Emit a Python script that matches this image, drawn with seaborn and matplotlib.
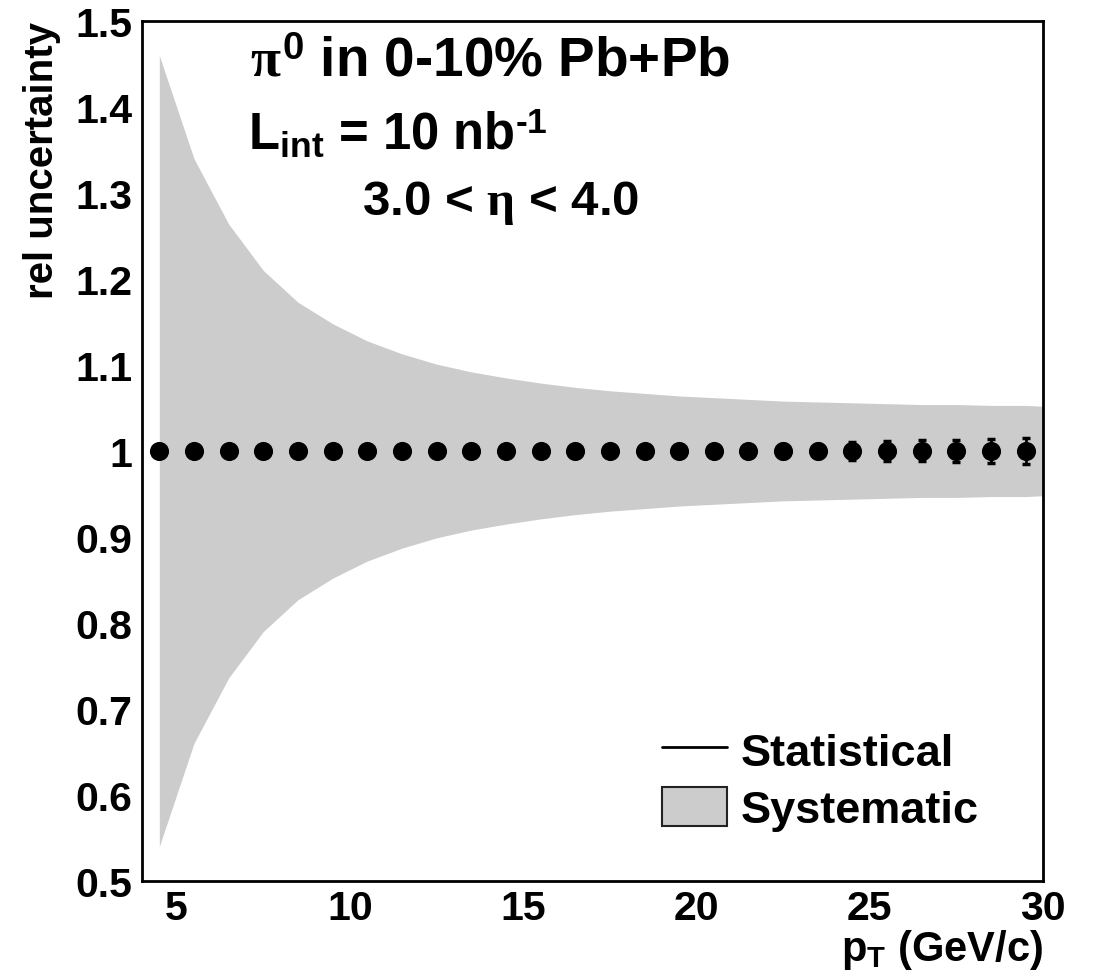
import numpy as np
import pandas as pd
import matplotlib
matplotlib.use("Agg")
import matplotlib.pyplot as plt
import seaborn as sns
from matplotlib.lines import Line2D
from matplotlib.patches import Patch
from matplotlib.ticker import MultipleLocator

# ---------------- data ----------------
pt = [4.5, 5.5, 6.5, 7.5, 8.5, 9.5, 10.5, 11.5, 12.5, 13.5, 14.5, 15.5, 16.5,
      17.5, 18.5, 19.5, 20.5, 21.5, 22.5, 23.5, 24.5, 25.5, 26.5, 27.5, 28.5, 29.5]
rel_value = [1.0] * len(pt)
stat_err = [0.0008, 0.0009, 0.0011, 0.0013, 0.0015, 0.0018, 0.0021, 0.0024, 0.0027,
            0.0031, 0.0035, 0.0040, 0.0045, 0.0050, 0.0056, 0.0062, 0.0067, 0.0072,
            0.0078, 0.0085, 0.0102, 0.0112, 0.0122, 0.0132, 0.0142, 0.0155]
band_x = pt + [30.0]
sys_err = [0.460, 0.340, 0.264, 0.210, 0.173, 0.148, 0.128, 0.113, 0.101, 0.092,
           0.085, 0.079, 0.074, 0.070, 0.067, 0.064, 0.062, 0.060, 0.058, 0.057,
           0.056, 0.055, 0.054, 0.054, 0.053, 0.053, 0.052]

x_label = r"$\mathbf{p_{T}}$ (GeV/c)"
y_label = "rel uncertainty"
legend_labels = ["Statistical", "Systematic"]

df = pd.DataFrame({"pt": pt, "val": rel_value, "stat": stat_err})
band = pd.DataFrame({"x": band_x, "sys": sys_err})

# ---------------- style ----------------
sns.set_theme(style="white")
plt.rcParams["font.family"] = ["Liberation Sans", "DejaVu Sans"]
plt.rcParams["font.weight"] = "bold"
plt.rcParams["text.color"] = "black"
plt.rcParams["axes.labelcolor"] = "black"
plt.rcParams["xtick.color"] = "black"
plt.rcParams["ytick.color"] = "black"
plt.rcParams["axes.unicode_minus"] = False
plt.rcParams["mathtext.fontset"] = "custom"
plt.rcParams["mathtext.rm"] = "Liberation Sans:bold"
plt.rcParams["mathtext.bf"] = "Liberation Sans:bold"
plt.rcParams["mathtext.it"] = "Liberation Serif"
plt.rcParams["mathtext.sf"] = "Liberation Sans:bold"

fig = plt.figure(figsize=(10.93, 9.78), dpi=100)
ax = fig.add_axes([0.1299, 0.0982, 0.9543 - 0.1299, 0.9775 - 0.0982])

grey = "#cccccc"
ax.fill_between(band["x"], 1 - band["sys"], 1 + band["sys"], color=grey,
                linewidth=0, zorder=1)
ax.errorbar(df["pt"], df["val"], yerr=df["stat"], fmt="none", ecolor="black",
            elinewidth=2, capsize=2.6, capthick=2.5, zorder=3)
sns.scatterplot(data=df, x="pt", y="val", ax=ax, color="black", s=190,
                edgecolor="black", linewidth=0, zorder=4, legend=False)

ax.set_xlim(4, 30)
ax.set_ylim(0.5, 1.5)
ax.xaxis.set_major_locator(MultipleLocator(5))
ax.xaxis.set_minor_locator(MultipleLocator(1))
ax.yaxis.set_minor_locator(MultipleLocator(0.02))
ax.set_yticks([0.5, 0.6, 0.7, 0.8, 0.9, 1.0, 1.1, 1.2, 1.3, 1.4, 1.5])
ax.set_yticklabels(["0.5", "0.6", "0.7", "0.8", "0.9", "1", "1.1", "1.2", "1.3", "1.4", "1.5"])
ax.tick_params(axis="both", which="both", direction="in", top=False, right=False,
               colors="black", width=1.5, labelsize=29.5)
ax.tick_params(axis="y", which="major", length=13, pad=7)
ax.tick_params(axis="y", which="minor", length=9)
ax.tick_params(axis="x", which="major", length=19, pad=6)
ax.tick_params(axis="x", which="minor", length=9)
for lab in ax.get_xticklabels() + ax.get_yticklabels():
    lab.set_fontweight("bold")
for s in ax.spines.values():
    s.set_color("black")
    s.set_linewidth(2)
    s.set_visible(True)

ax.set_xlabel(x_label, fontsize=30, fontweight="bold", loc="right", labelpad=0)
ax.set_ylabel(y_label, fontsize=29, fontweight="bold", loc="top", labelpad=10)

# annotations
ax.text(0.12, 0.937, r"$\pi^{\mathrm{0}}$ in 0-10% Pb+Pb", transform=ax.transAxes,
        fontsize=39.5, fontweight="bold", va="baseline", ha="left")
ax.text(0.118, 0.853, r"$\mathrm{L_{int}}$ = 10 nb$^{\text{-1}}$", transform=ax.transAxes,
        fontsize=36.5, fontweight="bold", va="baseline", ha="left")
ax.text(0.244, 0.776, r"3.0 < $\eta$ < 4.0", transform=ax.transAxes,
        fontsize=35.5, fontweight="bold", va="baseline", ha="left")

handles = [Line2D([0], [0], color="black", lw=2),
           Patch(facecolor=grey, edgecolor="#222222", linewidth=1.5)]
leg = ax.legend(handles, legend_labels, loc="lower left",
                bbox_to_anchor=(0.577, 0.058), frameon=False, fontsize=32.5,
                handlelength=1.45, handleheight=0.95, handletextpad=0.3,
                labelspacing=0.3, borderpad=0, borderaxespad=0)
for t in leg.get_texts():
    t.set_fontweight("bold")

fig.savefig("out.png", dpi=100)
